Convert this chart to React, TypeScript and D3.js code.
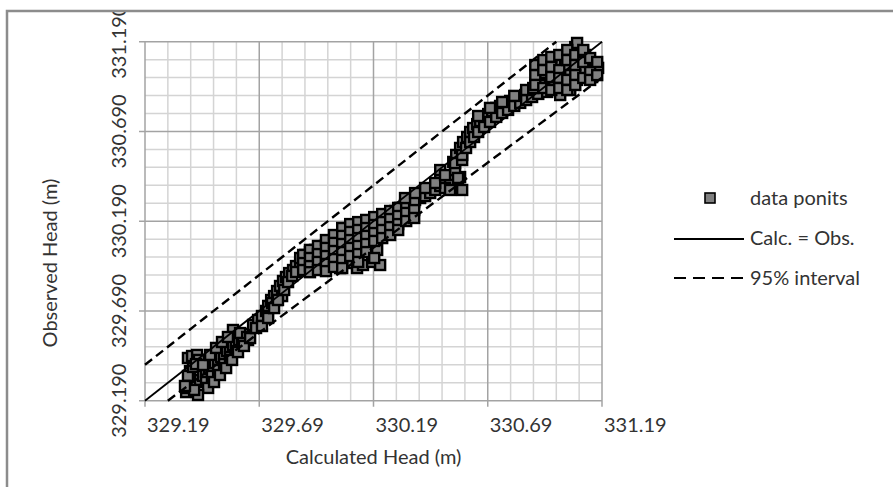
import * as d3 from "d3";

type Pt = [number, number]; // [calculated, observed] head (m)

// points, grouped along the cloud from bottom-left to top-right
const lowerCluster: Pt[] = [
  [329.370, 329.238], [329.374, 329.261], [329.383, 329.283], [329.391, 329.305], [329.387, 329.355],
  [329.396, 329.294], [329.378, 329.328], [329.400, 329.378], [329.378, 329.428], [329.396, 329.439],
  [329.418, 329.445], [329.426, 329.417], [329.413, 329.394], [329.431, 329.305], [329.444, 329.328],
  [329.457, 329.350], [329.470, 329.367], [329.483, 329.383], [329.496, 329.400], [329.510, 329.417],
  [329.523, 329.433], [329.536, 329.450], [329.549, 329.467], [329.562, 329.484], [329.575, 329.500],
  [329.588, 329.517], [329.602, 329.528], [329.615, 329.545], [329.628, 329.562], [329.457, 329.294],
  [329.483, 329.328], [329.510, 329.361], [329.536, 329.394], [329.562, 329.433], [329.588, 329.467],
  [329.615, 329.500], [329.641, 329.528], [329.575, 329.584], [329.606, 329.567], [329.637, 329.545],
  [329.619, 329.511], [329.444, 329.389], [329.475, 329.445], [329.501, 329.484], [329.527, 329.517],
  [329.553, 329.545], [329.466, 329.261], [329.492, 329.294], [329.518, 329.333], [329.545, 329.372],
  [329.571, 329.417], [329.597, 329.461], [329.623, 329.495], [329.650, 329.539], [329.422, 329.222],
  [329.405, 329.250], [329.365, 329.272],
];

const steepBand: Pt[] = [
  [329.663, 329.612], [329.685, 329.640], [329.702, 329.662], [329.720, 329.690], [329.729, 329.718],
  [329.742, 329.751], [329.755, 329.773], [329.768, 329.801], [329.781, 329.829], [329.794, 329.857],
  [329.807, 329.879], [329.821, 329.901], [329.838, 329.918], [329.851, 329.940], [329.869, 329.957],
  [329.886, 329.968], [329.904, 329.979], [329.921, 329.991], [329.746, 329.734], [329.768, 329.751],
  [329.790, 329.773], [329.676, 329.595], [329.702, 329.606], [329.729, 329.651], [329.755, 329.706],
  [329.772, 329.751], [329.799, 329.807], [329.816, 329.851], [329.834, 329.885], [329.851, 329.907],
];

const midMass: Pt[] = [
  [329.869, 329.985], [329.891, 330.002], [329.912, 330.018], [329.934, 330.030], [329.956, 330.041],
  [329.978, 330.052], [330.000, 330.063], [330.022, 330.074], [330.044, 330.085], [330.066, 330.102],
  [330.088, 330.119], [330.109, 330.135], [330.131, 330.152], [330.153, 330.163], [330.175, 330.174],
  [330.197, 330.191], [330.219, 330.202], [330.241, 330.219], [330.263, 330.230], [330.285, 330.247],
  [330.306, 330.264], [330.328, 330.280], [330.350, 330.291], [330.372, 330.308], [330.394, 330.319],
  [329.912, 329.963], [329.956, 329.940], [330.000, 329.946], [330.044, 329.929], [330.088, 329.957],
  [330.118, 329.929], [330.144, 329.946], [330.184, 329.963], [330.206, 330.030], [330.219, 329.946],
  [330.131, 330.069], [330.088, 330.169], [330.066, 330.130], [330.026, 330.046], [329.982, 329.996],
  [329.947, 329.974],
  [329.882, 330.002], [329.882, 329.957], [329.882, 329.918],
  [329.912, 330.030], [329.912, 329.985], [329.912, 329.940], [329.912, 329.906],
  [329.947, 330.052], [329.947, 330.007], [329.947, 329.963], [329.947, 329.918],
  [329.982, 330.085], [329.982, 330.041], [329.982, 329.996], [329.982, 329.952], [329.982, 329.912],
  [330.017, 330.113], [330.017, 330.069], [330.017, 330.024], [330.017, 329.979], [330.017, 329.935],
  [330.053, 330.152], [330.053, 330.108], [330.053, 330.063], [330.053, 330.018], [330.053, 329.974], [330.053, 329.929],
  [330.088, 330.174], [330.088, 330.130], [330.088, 330.085], [330.088, 330.041], [330.088, 329.996],
  [330.123, 330.185], [330.123, 330.141], [330.123, 330.096], [330.123, 330.052], [330.123, 330.007], [330.123, 329.963],
  [330.158, 330.197], [330.158, 330.152], [330.158, 330.108], [330.158, 330.063], [330.158, 330.018],
  [330.193, 330.213], [330.193, 330.169], [330.193, 330.124], [330.193, 330.080], [330.193, 329.985],
  [330.228, 330.230], [330.228, 330.185], [330.228, 330.141], [330.228, 330.096],
  [330.263, 330.247], [330.263, 330.202], [330.263, 330.157], [330.263, 330.113],
  [330.298, 330.264], [330.298, 330.219], [330.298, 330.174], [330.298, 330.141],
  [330.333, 330.280], [330.333, 330.236], [330.333, 330.191],
  [330.368, 330.296], [330.368, 330.252], [330.368, 330.208],
];

const upperTrail: Pt[] = [
  [330.416, 330.330], [330.438, 330.347], [330.460, 330.364], [330.482, 330.386], [330.503, 330.408],
  [330.525, 330.420], [330.556, 330.375], [330.569, 330.436], [330.482, 330.431], [330.525, 330.392],
  [330.503, 330.375], [330.547, 330.475], [330.539, 330.520], [330.552, 330.559], [330.569, 330.598],
  [330.582, 330.631], [330.600, 330.659], [330.613, 330.687], [330.626, 330.709], [330.644, 330.731],
  [330.657, 330.748], [330.674, 330.771], [330.692, 330.787], [330.709, 330.804], [330.727, 330.821],
  [330.744, 330.832], [330.766, 330.849], [330.788, 330.860], [330.810, 330.871], [330.832, 330.882],
  [330.854, 330.893], [330.876, 330.910], [330.898, 330.927], [330.919, 330.943],
  [330.328, 330.319], [330.372, 330.347], [330.416, 330.375], [330.460, 330.403], [330.482, 330.475],
  [330.503, 330.447], [330.525, 330.364], [330.560, 330.431], [330.578, 330.364], [330.547, 330.514],
  [330.578, 330.531], [330.578, 330.559], [330.595, 330.598], [330.613, 330.631], [330.630, 330.659],
  [330.648, 330.687], [330.674, 330.715], [330.700, 330.743], [330.727, 330.771], [330.753, 330.793],
  [330.779, 330.810], [330.806, 330.832], [330.832, 330.849], [330.858, 330.865], [330.884, 330.882],
  [330.911, 330.899], [330.648, 330.776], [330.700, 330.821], [330.753, 330.854], [330.806, 330.888],
  [330.858, 330.921],
];

const topCluster: Pt[] = [
  [330.889, 330.932], [330.906, 331.032], [330.933, 330.977], [330.954, 331.060], [330.963, 330.960],
  [330.976, 330.993], [331.007, 331.071], [331.007, 330.949], [331.029, 331.004], [331.051, 331.133],
  [331.051, 331.032], [331.073, 331.160], [331.081, 330.977], [331.081, 331.183], [331.095, 331.088],
  [331.116, 331.116], [331.138, 331.060], [331.147, 330.993], [331.151, 331.071], [331.160, 331.032],
  [331.108, 331.032], [331.125, 330.993], [330.919, 331.004], [330.941, 331.016], [330.985, 331.032],
  [331.029, 331.060], [331.060, 331.088], [331.095, 331.032], [331.173, 331.044], [330.950, 330.910],
  [331.007, 330.893], [331.051, 330.921],
  [330.898, 331.060], [330.898, 331.004], [330.898, 330.949],
  [330.933, 331.088], [330.933, 331.032], [330.933, 330.932],
  [330.968, 331.105], [330.968, 331.049], [330.968, 330.993], [330.968, 330.921],
  [331.003, 331.116], [331.003, 331.032], [331.003, 330.988], [331.003, 330.932],
  [331.038, 331.144], [331.038, 331.088], [331.038, 330.977], [331.038, 330.921],
  [331.073, 331.116], [331.073, 331.060], [331.073, 331.004], [331.073, 330.949],
  [331.108, 331.144], [331.108, 331.077], [331.108, 330.988],
  [331.138, 331.099], [331.138, 331.021], [331.138, 330.977],
  [331.169, 331.077], [331.169, 331.004],
];

const axisTicks = [329.19, 329.69, 330.19, 330.69, 331.19];
const minorTicks = [
  329.29, 329.39, 329.49, 329.59, 329.79, 329.89, 329.99, 330.09,
  330.29, 330.39, 330.49, 330.59, 330.79, 330.89, 330.99, 331.09,
];

// [calc, obs] end points
const equalLine: Pt[] = [[329.19, 329.19], [331.19, 331.19]];
const upperBand: Pt[] = [[329.19, 329.39], [330.99, 331.19]];
const lowerBand: Pt[] = [[329.29, 329.19], [331.19, 330.99]];

const legendItems = ["data ponits", "Calc. = Obs.", "95% interval"];

const W = 893;
const H = 487;
const font = "Lato, 'Open Sans', sans-serif";
const textColor = "#333";

export default function App() {
  const x = d3.scaleLinear().domain([329.19, 331.19]).range([145, 602]);
  const y = d3.scaleLinear().domain([329.19, 331.19]).range([400.7, 41.7]);
  const line = d3.line<Pt>().x(d => x(d[0])).y(d => y(d[1]));
  const fmtX = d3.format(".2f");
  const fmtY = d3.format(".3f");
  const [x0, x1] = x.range();
  const [y0, y1] = y.range();
  const ms = 10;
  const points = [...lowerCluster, ...steepBand, ...midMass, ...upperTrail, ...topCluster];

  return (
    <svg width={W} height={H} style={{ position: "absolute", left: 0, top: 0, background: "#fff" }}>
      <defs>
        <clipPath id="frame">
          <rect x={7} y={11} width={W} height={H} />
        </clipPath>
      </defs>
      <rect x={0} y={0} width={W} height={H} fill="#fff" />
      <g clipPath="url(#frame)">
        {/* minor grid */}
        <g stroke="#d4d4d4" strokeWidth={1.5}>
          {minorTicks.map(t => (
            <line key={"mx" + t} x1={x(t)} x2={x(t)} y1={y1} y2={y0} />
          ))}
          {minorTicks.map(t => (
            <line key={"my" + t} x1={x0} x2={x1} y1={y(t)} y2={y(t)} />
          ))}
        </g>
        {/* major grid + ticks */}
        <g stroke="#a3a3a3" strokeWidth={1.5}>
          {axisTicks.map(t => (
            <line key={"gx" + t} x1={x(t)} x2={x(t)} y1={y1} y2={y0 + 6} />
          ))}
          {axisTicks.map(t => (
            <line key={"gy" + t} x1={x0 - 6} x2={x1} y1={y(t)} y2={y(t)} />
          ))}
        </g>

        <g fill="#808080" stroke="#000" strokeWidth={2.4}>
          {points.map((p, i) => (
            <rect key={i} x={x(p[0]) - ms / 2} y={y(p[1]) - ms / 2} width={ms} height={ms} />
          ))}
        </g>

        <path d={line(equalLine) ?? ""} stroke="#000" strokeWidth={1.8} fill="none" />
        <path d={line(upperBand) ?? ""} stroke="#000" strokeWidth={2.4} strokeDasharray="9,5" fill="none" />
        <path d={line(lowerBand) ?? ""} stroke="#000" strokeWidth={2.4} strokeDasharray="9,5" fill="none" />

        <g fontFamily={font} fontSize={20} fill={textColor}>
          {axisTicks.map(t => (
            <text key={"tx" + t} x={x(t) + 2} y={432} textAnchor="start">{fmtX(t)}</text>
          ))}
          {axisTicks.map(t => (
            <text key={"ty" + t} transform={`translate(126,${y(t)}) rotate(-90)`} textAnchor="middle">
              {fmtY(t)}
            </text>
          ))}
          <text x={(x0 + x1) / 2} y={464} textAnchor="middle">Calculated Head (m)</text>
          <text transform="translate(57,263) rotate(-90)" textAnchor="middle">Observed Head (m)</text>
        </g>

        {/* legend */}
        <g fontFamily={font} fontSize={20} fill={textColor}>
          <rect x={710 - 5} y={198 - 5} width={10} height={10} fill="#808080" stroke="#000" strokeWidth={1.6} />
          <line x1={674} x2={744} y1={239} y2={239} stroke="#000" strokeWidth={2} />
          <line x1={674} x2={744} y1={278} y2={278} stroke="#000" strokeWidth={2} strokeDasharray="12,7" />
          {legendItems.map((d, i) => (
            <text key={d} x={750} y={205 + i * 40}>{d}</text>
          ))}
        </g>
      </g>
      <path d={`M7,${H + 5}V11H${W + 5}`} stroke="#8c8c8c" strokeWidth={2.5} fill="none" />
    </svg>
  );
}
